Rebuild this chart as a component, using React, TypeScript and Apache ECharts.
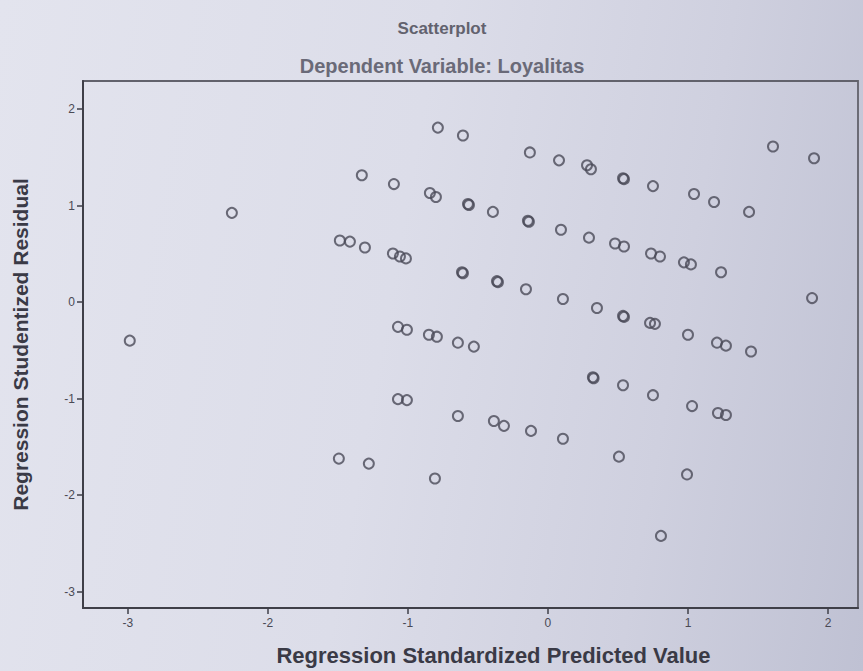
import React, { useEffect, useRef } from "react";
import * as echarts from "echarts";

const titleText = "Scatterplot";
const subtitleText = "Dependent Variable: Loyalitas";
const xAxisName = "Regression Standardized Predicted Value";
const yAxisName = "Regression Studentized Residual";

// Regression standardized predicted values
const predicted = [
  -2.986, -2.257, -1.486, -1.414, -1.493, -1.329, -1.307, -1.279, -1.1, -1.107,
  -1.057, -1.014, -1.071, -1.007, -1.071, -1.007, -0.843, -0.8, -0.85, -0.793,
  -0.807, -0.786, -0.607, -0.571, -0.564, -0.614, -0.607, -0.643, -0.643, -0.529,
  -0.393, -0.364, -0.357, -0.386, -0.314, -0.157, -0.143, -0.136, -0.129, -0.121,
  0.079, 0.093, 0.107, 0.107, 0.279, 0.307, 0.293, 0.321, 0.326, 0.35,
  0.479, 0.543, 0.536, 0.543, 0.536, 0.543, 0.536, 0.507, 0.736, 0.8,
  0.729, 0.764, 0.75, 0.75, 0.807, 0.971, 1.021, 1.0, 1.029, 0.993,
  1.043, 1.186, 1.207, 1.271, 1.214, 1.271, 1.236, 1.436, 1.45, 1.607,
  1.886, 1.9,
];

// Regression studentized residuals
const residual = [
  -0.4, 0.924, 0.637, 0.626, -1.622, 1.314, 0.565, -1.674, 1.222, 0.503,
  0.472, 0.452, -1.006, -1.016, -0.257, -0.287, 1.129, 1.088, -0.339, -0.359,
  -1.828, 1.807, 1.725, 1.016, 1.006, 0.308, 0.298, -0.421, -1.181, -0.462,
  0.934, 0.216, 0.206, -1.232, -1.283, 0.133, 0.842, 0.832, 1.55, -1.335,
  1.468, 0.749, 0.031, -1.417, 1.417, 1.376, 0.667, -0.78, -0.79, -0.062,
  0.606, 0.575, 1.283, 1.273, -0.144, -0.154, -0.862, -1.602, 0.503, 0.472,
  -0.216, -0.226, 1.201, -0.965, -2.423, 0.411, 0.39, -0.339, -1.078, -1.786,
  1.119, 1.037, -0.421, -0.452, -1.15, -1.17, 0.308, 0.934, -0.513, 1.612,
  0.041, 1.489,
];

const xTicks = [-3, -2, -1, 0, 1, 2];
const yTicks = [-3, -2, -1, 0, 1, 2];

const FONT = "Liberation Sans, Arial, sans-serif";

export default function App() {
  const ref = useRef<HTMLDivElement>(null);

  useEffect(() => {
    if (!ref.current) return;
    const chart = echarts.init(ref.current, undefined, { renderer: "svg" });
    const points = predicted.map((x, i) => [x, residual[i]]);
    const fmt = (ticks: number[]) => (v: number) =>
      ticks.some((t) => Math.abs(t - v) < 1e-6) ? String(Math.round(v)) : "";

    const axisCommon = {
      type: "value",
      minInterval: 1,
      maxInterval: 1,
      splitNumber: 6,
      nameLocation: "middle",
      splitLine: { show: false },
      axisLine: { show: true, onZero: false, lineStyle: { color: "#3f3f48", width: 2 } },
      axisTick: {
        show: true,
        inside: false,
        length: 6,
        lineStyle: { color: "#3f3f48", width: 1.5 },
      },
    };

    chart.setOption({
      animation: false,
      backgroundColor: "transparent",
      title: [
        {
          text: titleText,
          left: 437,
          top: 15,
          textAlign: "center",
          textStyle: {
            fontFamily: FONT,
            fontSize: 17,
            fontWeight: "bold",
            color: "#62626e",
          },
        },
        {
          text: subtitleText,
          left: 437,
          top: 51,
          textAlign: "center",
          textStyle: {
            fontFamily: FONT,
            fontSize: 20,
            fontWeight: "bold",
            color: "#6a6a78",
          },
        },
      ],
      grid: {
        left: 83,
        right: 5,
        top: 81,
        bottom: 59,
        show: true,
        borderColor: "#62626c",
        borderWidth: 1.8,
        backgroundColor: "transparent",
      },
      xAxis: {
        ...axisCommon,
        min: -3.32,
        max: 2.214,
        name: xAxisName,
        nameGap: 36,
        nameTextStyle: {
          fontFamily: FONT,
          fontSize: 22,
          fontWeight: "bold",
          color: "#3a3a46",
          padding: [0, 0, 0, 46],
        },
        axisLabel: {
          showMinLabel: false,
          showMaxLabel: false,
          formatter: fmt(xTicks),
          margin: 9,
          fontFamily: FONT,
          fontSize: 12,
          color: "#4a4a55",
        },
      },
      yAxis: {
        ...axisCommon,
        min: -3.17,
        max: 2.29,
        name: yAxisName,
        nameRotate: 90,
        nameGap: 52,
        nameTextStyle: {
          fontFamily: FONT,
          fontSize: 21,
          fontWeight: "bold",
          color: "#3a3a46",
        },
        axisLabel: {
          showMinLabel: false,
          showMaxLabel: false,
          formatter: fmt(yTicks),
          margin: 8,
          fontFamily: FONT,
          fontSize: 12,
          color: "#4a4a55",
        },
      },
      series: [
        {
          type: "scatter",
          data: points,
          symbol: "circle",
          symbolSize: 10,
          itemStyle: {
            color: "rgba(0,0,0,0)",
            borderColor: "#4a4a58",
            borderWidth: 2,
          },
        },
      ],
    });

    return () => chart.dispose();
  }, []);

  return (
    <div
      style={{
        position: "fixed",
        left: 0,
        top: 0,
        width: 863,
        height: 671,
        background:
          "linear-gradient(100deg, #e3e4ee 0%, #dcdde9 45%, #cfd0df 75%, #bfc1d3 100%)",
      }}
    >
      <div ref={ref} style={{ width: 863, height: 671 }} />
    </div>
  );
}
